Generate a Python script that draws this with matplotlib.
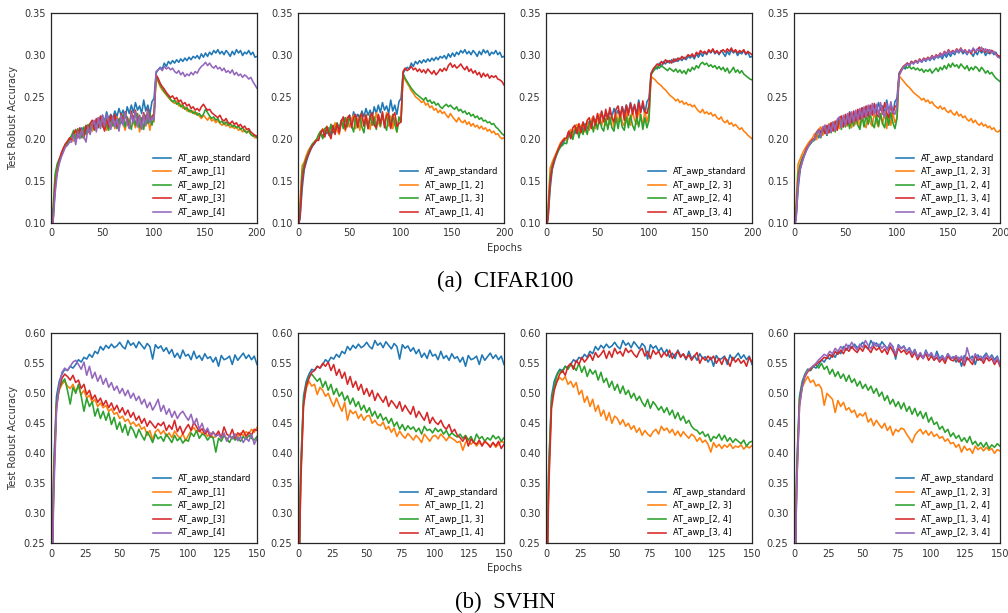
import numpy as np
import matplotlib
matplotlib.use("Agg")
import matplotlib.pyplot as plt

# ---------------- data (values in thousandths of accuracy) ----------------
epochs_cifar = np.arange(0, 201, 2)
epochs_svhn = np.arange(0, 151, 2)

cifar_standard = [
    95, 105, 140, 163, 172, 180, 186, 191, 194, 198,
    200, 208, 201, 210, 206, 213, 204, 215, 209, 218,
    212, 221, 214, 225, 217, 228, 220, 232, 223, 229,
    224, 233, 226, 236, 228, 234, 225, 238, 230, 240,
    231, 243, 234, 239, 230, 246, 233, 240, 229, 244,
    248, 278, 282, 285, 283, 290, 286, 292, 289, 293,
    290, 294, 291, 295, 292, 296, 293, 297, 294, 298,
    296, 299, 295, 301, 297, 302, 298, 303, 300, 305,
    302, 306, 301, 304, 300, 305, 302, 298, 304, 300,
    306, 302, 305, 299, 303, 301, 305, 300, 303, 297,
    298]
cifar_1 = [
    92, 110, 150, 168, 175, 182, 188, 192, 196, 199,
    203, 197, 209, 202, 212, 205, 200, 214, 207, 217,
    209, 220, 211, 223, 214, 226, 216, 210, 224, 213,
    222, 212, 226, 215, 228, 218, 210, 225, 216, 229,
    220, 213, 227, 208, 222, 229, 215, 225, 210, 227,
    220, 272, 268, 262, 258, 255, 252, 249, 246, 244,
    242, 245, 239, 241, 236, 238, 233, 235, 231, 233,
    229, 231, 227, 224, 228, 225, 222, 226, 221, 223,
    219, 222, 218, 216, 219, 215, 217, 213, 216, 212,
    214, 210, 212, 208, 211, 207, 209, 205, 204, 201,
    202]
cifar_2 = [
    98, 118, 158, 170, 176, 181, 187, 193, 195, 200,
    204, 210, 199, 212, 206, 201, 214, 205, 217, 208,
    219, 210, 222, 213, 226, 214, 223, 216, 210, 225,
    215, 227, 212, 224, 218, 229, 214, 226, 219, 211,
    227, 216, 230, 213, 225, 211, 228, 218, 231, 216,
    226, 274, 270, 264, 260, 256, 253, 250, 247, 244,
    246, 241, 243, 238, 240, 235, 237, 232, 234, 230,
    232, 228, 230, 226, 229, 235, 231, 227, 224, 226,
    222, 224, 219, 221, 217, 220, 216, 218, 214, 216,
    213, 215, 211, 213, 209, 207, 210, 205, 203, 204,
    201]
cifar_3 = [
    90, 102, 145, 160, 174, 183, 189, 194, 197, 201,
    198, 206, 211, 201, 213, 207, 203, 216, 208, 218,
    222, 211, 224, 214, 227, 217, 209, 225, 214, 228,
    218, 229, 216, 211, 230, 219, 232, 220, 213, 233,
    221, 234, 216, 228, 212, 231, 219, 235, 222, 226,
    230, 276, 272, 266, 262, 259, 255, 252, 249, 251,
    247, 249, 244, 246, 241, 243, 239, 241, 236, 238,
    234, 236, 233, 238, 241, 237, 234, 235, 231, 229,
    227, 225, 228, 223, 221, 224, 219, 218, 221, 217,
    219, 215, 217, 213, 215, 211, 212, 208, 206, 204,
    203]
cifar_4 = [
    88, 100, 135, 158, 170, 178, 184, 190, 192, 196,
    196, 205, 193, 208, 200, 211, 202, 196, 214, 205,
    217, 222, 208, 225, 212, 228, 215, 229, 221, 211,
    226, 214, 224, 209, 228, 216, 231, 218, 212, 230,
    219, 232, 214, 227, 211, 229, 216, 233, 219, 226,
    222, 280, 282, 284, 281, 286, 283, 285, 282, 284,
    280, 278, 281, 276, 279, 274, 277, 275, 279, 276,
    280, 278, 283, 286, 288, 291, 287, 290, 286, 284,
    287, 283, 285, 281, 284, 279, 281, 278, 282, 276,
    279, 275, 277, 273, 276, 274, 271, 273, 268, 264,
    260]
cifar_12 = [
    100, 125, 168, 172, 180, 186, 190, 193, 197, 199,
    201, 208, 212, 203, 215, 206, 217, 208, 219, 210,
    205, 219, 223, 209, 226, 214, 222, 228, 212, 224,
    210, 227, 215, 229, 218, 211, 228, 216, 231, 219,
    214, 229, 217, 231, 215, 227, 212, 225, 208, 222,
    222, 275, 270, 266, 262, 257, 254, 250, 248, 246,
    243, 245, 240, 242, 237, 239, 234, 236, 231, 234,
    230, 232, 228, 225, 230, 226, 223, 220, 225, 221,
    219, 222, 217, 220, 215, 218, 214, 216, 212, 215,
    211, 213, 209, 211, 207, 209, 205, 206, 202, 200,
    201]
cifar_13 = [
    96, 115, 160, 170, 177, 183, 189, 194, 196, 199,
    205, 209, 200, 212, 214, 204, 217, 207, 210, 219,
    209, 222, 212, 225, 214, 227, 216, 208, 226, 213,
    228, 214, 207, 225, 212, 229, 216, 226, 211, 228,
    215, 230, 217, 210, 228, 213, 229, 217, 208, 226,
    220, 278, 272, 268, 264, 260, 257, 254, 252, 250,
    248, 246, 249, 244, 246, 242, 244, 240, 242, 238,
    236, 239, 241, 238, 240, 237, 235, 238, 233, 235,
    231, 233, 229, 231, 227, 229, 225, 227, 223, 225,
    221, 222, 219, 220, 217, 218, 214, 212, 209, 206,
    204]
cifar_14 = [
    92, 108, 150, 165, 175, 181, 187, 192, 195, 198,
    198, 207, 211, 202, 214, 206, 200, 216, 205, 218,
    207, 221, 226, 211, 224, 228, 213, 225, 229, 214,
    226, 230, 215, 228, 212, 226, 231, 216, 213, 229,
    218, 232, 213, 228, 230, 212, 226, 231, 215, 218,
    220, 280, 284, 281, 283, 286, 282, 284, 280, 283,
    279, 282, 278, 283, 280, 277, 281, 276, 279, 283,
    280, 284, 281, 287, 290, 285, 288, 284, 286, 289,
    285, 282, 286, 280, 283, 278, 281, 276, 279, 273,
    278, 274, 277, 272, 275, 273, 275, 271, 270, 268,
    264]
cifar_23 = [
    94, 118, 165, 172, 178, 183, 189, 195, 198, 201,
    197, 207, 211, 203, 214, 217, 206, 215, 219, 208,
    221, 210, 223, 226, 212, 225, 229, 215, 227, 216,
    230, 217, 228, 213, 231, 219, 232, 220, 215, 233,
    221, 216, 234, 222, 217, 235, 223, 218, 233, 220,
    230, 274, 272, 270, 267, 265, 263, 260, 258, 255,
    252, 250, 248, 245, 247, 243, 245, 241, 243, 240,
    241, 238, 240, 236, 233, 231, 235, 230, 232, 229,
    231, 227, 229, 225, 223, 226, 221, 219, 222, 217,
    219, 215, 217, 214, 211, 213, 209, 207, 204, 202,
    200]
cifar_24 = [
    96, 112, 155, 168, 175, 180, 186, 190, 192, 195,
    194, 204, 208, 199, 210, 213, 201, 214, 205, 216,
    205, 218, 221, 208, 223, 211, 225, 213, 209, 224,
    211, 226, 213, 209, 225, 212, 227, 214, 210, 226,
    213, 228, 216, 210, 227, 214, 229, 211, 225, 213,
    222, 276, 280, 283, 286, 284, 287, 285, 283, 281,
    284, 282, 280, 283, 279, 282, 278, 281, 277, 283,
    280, 285, 282, 287, 284, 289, 291, 288, 290, 286,
    288, 285, 287, 283, 286, 282, 285, 280, 284, 278,
    281, 285, 279, 282, 278, 281, 277, 275, 273, 271,
    270]
cifar_34 = [
    90, 105, 148, 165, 174, 182, 188, 193, 197, 200,
    201, 209, 200, 213, 216, 206, 218, 207, 220, 210,
    222, 225, 212, 227, 216, 230, 218, 233, 220, 235,
    223, 237, 225, 220, 235, 239, 226, 238, 222, 240,
    228, 242, 229, 241, 225, 243, 231, 245, 232, 230,
    240, 277, 283, 286, 289, 287, 292, 289, 294, 291,
    293, 290, 295, 292, 296, 294, 298, 295, 297, 300,
    298, 301, 297, 303, 300, 305, 302, 304, 301, 306,
    303, 307, 302, 305, 301, 304, 306, 303, 307, 304,
    308, 303, 306, 302, 305, 303, 306, 301, 304, 302,
    300]
cifar_123 = [
    98, 122, 170, 176, 182, 187, 191, 195, 198, 201,
    206, 199, 211, 214, 204, 216, 206, 218, 208, 220,
    210, 222, 212, 225, 214, 227, 215, 226, 213, 229,
    217, 228, 214, 230, 218, 213, 231, 219, 215, 232,
    220, 214, 230, 217, 232, 212, 228, 216, 231, 219,
    225, 275, 272, 269, 266, 263, 261, 258, 255, 253,
    251, 249, 246, 248, 244, 246, 242, 244, 240, 238,
    236, 239, 235, 237, 233, 231, 234, 230, 228, 232,
    227, 229, 225, 227, 223, 221, 224, 219, 222, 218,
    216, 219, 215, 217, 213, 215, 211, 213, 209, 208,
    210]
cifar_124 = [
    94, 114, 158, 170, 177, 182, 187, 191, 194, 197,
    198, 206, 210, 201, 212, 215, 204, 216, 207, 219,
    208, 221, 224, 211, 226, 214, 225, 212, 227, 215,
    229, 216, 211, 227, 214, 229, 217, 230, 218, 213,
    228, 215, 230, 218, 213, 229, 216, 231, 219, 212,
    224, 276, 281, 284, 286, 284, 286, 283, 285, 282,
    284, 281, 283, 279, 282, 280, 283, 278, 281, 284,
    280, 285, 282, 287, 283, 289, 285, 290, 286, 288,
    284, 289, 286, 283, 287, 281, 285, 282, 286, 284,
    280, 285, 282, 278, 281, 277, 279, 275, 272, 270,
    268]
cifar_134 = [
    92, 106, 150, 166, 175, 181, 188, 192, 196, 199,
    200, 208, 211, 203, 214, 206, 216, 207, 219, 209,
    221, 210, 224, 227, 214, 229, 217, 231, 219, 233,
    221, 235, 223, 237, 225, 239, 227, 240, 228, 242,
    230, 226, 241, 229, 243, 231, 225, 242, 230, 238,
    240, 276, 282, 286, 288, 290, 288, 292, 290, 293,
    291, 295, 292, 296, 294, 297, 295, 299, 296, 300,
    298, 302, 299, 304, 301, 306, 302, 305, 303, 307,
    304, 308, 303, 306, 302, 305, 301, 307, 303, 306,
    309, 304, 307, 303, 306, 302, 305, 303, 301, 299,
    298]
cifar_234 = [
    90, 104, 146, 164, 173, 180, 186, 191, 195, 198,
    199, 207, 210, 202, 213, 216, 205, 217, 208, 220,
    210, 223, 226, 213, 228, 216, 230, 218, 232, 220,
    234, 222, 236, 224, 238, 226, 240, 228, 242, 229,
    241, 228, 243, 231, 226, 242, 230, 244, 232, 229,
    238, 275, 280, 285, 287, 289, 287, 291, 289, 292,
    290, 294, 291, 295, 293, 296, 294, 298, 295, 299,
    297, 301, 298, 303, 300, 305, 301, 304, 302, 306,
    303, 307, 304, 305, 301, 306, 303, 308, 304, 307,
    305, 309, 304, 307, 303, 306, 302, 304, 300, 297,
    296]

svhn_standard = [
    100, 380, 495, 520, 532, 540, 538, 545, 542, 548,
    556, 552, 560, 557, 565, 560, 570, 566, 578, 572,
    580, 575, 582, 576, 579, 585, 578, 574, 588, 580,
    584, 576, 586, 580, 574, 583, 578, 557, 581, 575,
    579, 570, 576, 566, 573, 560, 567, 558, 572, 562,
    565, 556, 570, 558, 563, 555, 566, 558, 561, 552,
    560, 545, 563, 556, 558, 562, 548, 564, 555, 561,
    567, 558, 564, 556, 562, 548]
svhn_1 = [
    100, 360, 480, 505, 515, 520, 512, 508, 515, 503,
    512, 498, 505, 492, 497, 485, 490, 478, 484, 476,
    480, 470, 474, 465, 468, 458, 462, 453, 457, 448,
    452, 445, 449, 440, 444, 430, 438, 422, 436, 440,
    432, 438, 428, 434, 426, 437, 430, 425, 433, 421,
    430, 438, 443, 435, 440, 432, 438, 428, 434, 426,
    428, 433, 424, 430, 422, 429, 425, 432, 427, 434,
    429, 436, 432, 440, 435, 443]
svhn_2 = [
    100, 370, 485, 508, 518, 524, 505, 482, 510, 500,
    515, 495, 470, 492, 478, 486, 462, 475, 458, 470,
    455, 468, 448, 460, 440, 452, 435, 448, 430, 445,
    438, 426, 440, 430, 422, 436, 428, 418, 432, 424,
    428, 420, 432, 425, 418, 430, 421, 426, 417, 423,
    420, 434, 428, 438, 425, 432, 430, 422, 428, 426,
    402, 425, 420, 430, 424, 418, 428, 422, 426, 420,
    428, 423, 430, 425, 422, 428]
svhn_3 = [
    100, 350, 478, 510, 525, 532, 528, 522, 530, 518,
    522, 508, 515, 498, 505, 490, 497, 485, 492, 480,
    488, 476, 484, 472, 480, 468, 476, 464, 472, 460,
    468, 455, 462, 450, 458, 445, 454, 448, 442, 450,
    446, 452, 438, 447, 440, 455, 436, 445, 432, 441,
    448, 438, 452, 444, 436, 441, 432, 438, 428, 435,
    430, 437, 426, 444, 432, 428, 440, 425, 434, 430,
    438, 428, 435, 430, 440, 438]
svhn_4 = [
    100, 330, 470, 515, 535, 542, 538, 545, 552, 555,
    548, 540, 552, 530, 545, 525, 535, 520, 530, 515,
    525, 510, 518, 505, 512, 500, 508, 496, 505, 492,
    500, 488, 495, 482, 490, 476, 485, 472, 480, 490,
    470, 480, 465, 474, 460, 470, 458, 466, 470, 462,
    455, 465, 448, 458, 440, 450, 435, 442, 430, 436,
    428, 432, 425, 434, 420, 430, 424, 432, 421, 428,
    418, 426, 420, 432, 415, 425]
svhn_12 = [
    100, 360, 482, 508, 520, 512, 515, 498, 510, 505,
    495, 500, 488, 478, 492, 480, 470, 485, 455, 472,
    466, 470, 458, 465, 455, 462, 463, 450, 455, 448,
    446, 452, 440, 445, 435, 442, 428, 437, 430, 425,
    433, 428, 422, 430, 425, 418, 432, 426, 420, 428,
    430, 424, 432, 427, 421, 428, 425, 422, 418, 420,
    405, 418, 422, 415, 420, 412, 418, 414, 420, 416,
    412, 418, 410, 415, 420, 418]
svhn_13 = [
    100, 365, 488, 515, 528, 532, 526, 520, 525, 510,
    520, 505, 515, 498, 508, 495, 502, 488, 496, 482,
    492, 478, 486, 472, 480, 468, 476, 462, 470, 458,
    466, 455, 460, 450, 458, 445, 452, 440, 448, 438,
    446, 440, 444, 436, 442, 432, 445, 438, 440, 434,
    442, 436, 440, 432, 438, 429, 434, 430, 427, 432,
    425, 430, 422, 428, 418, 432, 424, 428, 420, 426,
    422, 430, 424, 428, 420, 426]
svhn_14 = [
    100, 350, 478, 512, 525, 535, 538, 545, 542, 550,
    545, 552, 538, 548, 530, 540, 525, 535, 515, 528,
    510, 520, 505, 515, 498, 508, 495, 505, 488, 500,
    492, 485, 495, 478, 488, 482, 475, 486, 470, 480,
    472, 465, 478, 460, 470, 462, 455, 468, 450, 460,
    452, 448, 455, 445, 440, 448, 435, 440, 430, 426,
    420, 428, 412, 424, 418, 415, 422, 412, 420, 416,
    410, 418, 412, 420, 408, 415]
svhn_23 = [
    100, 360, 485, 508, 520, 526, 522, 528, 515, 520,
    510, 518, 498, 505, 485, 495, 478, 490, 470, 480,
    462, 472, 455, 468, 450, 462, 458, 448, 456, 445,
    450, 440, 446, 435, 442, 430, 438, 432, 428, 436,
    440, 432, 445, 438, 442, 434, 440, 430, 437, 428,
    436, 430, 425, 432, 428, 420, 426, 418, 422, 415,
    402, 418, 410, 415, 408, 414, 410, 416, 408, 412,
    410, 414, 407, 412, 409, 413]
svhn_24 = [
    100, 370, 488, 512, 530, 538, 535, 545, 540, 548,
    545, 538, 550, 535, 545, 528, 540, 532, 538, 522,
    535, 518, 525, 510, 520, 505, 515, 500, 512, 498,
    505, 492, 500, 488, 495, 485, 478, 490, 475, 486,
    480, 472, 478, 468, 476, 464, 472, 458, 468, 455,
    462, 450, 455, 445, 440, 438, 432, 436, 428, 432,
    420, 428, 425, 432, 422, 430, 420, 426, 418, 424,
    420, 416, 422, 412, 418, 420]
svhn_34 = [
    100, 340, 475, 505, 520, 532, 538, 530, 545, 550,
    540, 555, 548, 560, 552, 558, 565, 555, 568, 560,
    565, 572, 558, 570, 560, 575, 566, 570, 562, 575,
    568, 572, 565, 560, 570, 575, 562, 570, 558, 572,
    565, 570, 560, 568, 562, 572, 558, 565, 570, 560,
    566, 558, 564, 555, 562, 568, 550, 560, 555, 562,
    556, 562, 550, 558, 548, 560, 555, 545, 560, 552,
    558, 550, 555, 545, 560, 552]
svhn_123 = [
    100, 365, 488, 510, 520, 528, 518, 522, 512, 515,
    508, 480, 500, 495, 490, 468, 488, 478, 485, 472,
    476, 468, 472, 460, 466, 462, 468, 452, 458, 446,
    455, 448, 442, 450, 438, 445, 430, 440, 436, 442,
    440, 432, 425, 418, 430, 436, 440, 432, 438, 430,
    436, 428, 432, 425, 428, 420, 424, 416, 418, 410,
    415, 402, 412, 405, 408, 400, 412, 406, 410, 404,
    410, 405, 408, 400, 406, 404]
svhn_124 = [
    100, 365, 490, 515, 532, 540, 538, 545, 548, 542,
    550, 540, 545, 532, 540, 528, 536, 525, 532, 520,
    530, 518, 524, 512, 520, 508, 515, 505, 512, 500,
    508, 495, 502, 488, 496, 482, 490, 478, 486, 474,
    484, 470, 478, 465, 475, 462, 470, 458, 468, 452,
    460, 448, 452, 440, 445, 435, 440, 428, 434, 425,
    430, 420, 426, 418, 428, 415, 420, 412, 418, 410,
    418, 408, 414, 410, 416, 412]
svhn_134 = [
    100, 350, 480, 512, 528, 536, 540, 545, 548, 552,
    555, 560, 558, 565, 560, 570, 565, 572, 566, 575,
    570, 578, 572, 568, 576, 570, 580, 574, 568, 578,
    572, 576, 568, 574, 565, 578, 570, 562, 575, 568,
    572, 565, 570, 560, 568, 556, 564, 558, 566, 555,
    562, 555, 560, 552, 558, 550, 562, 556, 554, 560,
    552, 558, 546, 560, 554, 548, 562, 555, 558, 550,
    560, 554, 558, 548, 556, 545]
svhn_234 = [
    100, 345, 478, 510, 530, 538, 542, 546, 550, 556,
    560, 565, 562, 570, 566, 575, 570, 578, 572, 582,
    575, 585, 578, 572, 582, 576, 588, 580, 574, 585,
    578, 582, 575, 580, 572, 584, 576, 566, 580, 574,
    578, 570, 575, 565, 572, 560, 568, 558, 570, 562,
    568, 558, 565, 555, 562, 556, 566, 560, 558, 563,
    556, 562, 550, 576, 560, 554, 566, 558, 562, 555,
    565, 558, 562, 552, 560, 548]

cifar_panels = [
    [("AT_awp_standard", cifar_standard), ("AT_awp_[1]", cifar_1),
     ("AT_awp_[2]", cifar_2), ("AT_awp_[3]", cifar_3), ("AT_awp_[4]", cifar_4)],
    [("AT_awp_standard", cifar_standard), ("AT_awp_[1, 2]", cifar_12),
     ("AT_awp_[1, 3]", cifar_13), ("AT_awp_[1, 4]", cifar_14)],
    [("AT_awp_standard", cifar_standard), ("AT_awp_[2, 3]", cifar_23),
     ("AT_awp_[2, 4]", cifar_24), ("AT_awp_[3, 4]", cifar_34)],
    [("AT_awp_standard", cifar_standard), ("AT_awp_[1, 2, 3]", cifar_123),
     ("AT_awp_[1, 2, 4]", cifar_124), ("AT_awp_[1, 3, 4]", cifar_134),
     ("AT_awp_[2, 3, 4]", cifar_234)],
]
svhn_panels = [
    [("AT_awp_standard", svhn_standard), ("AT_awp_[1]", svhn_1),
     ("AT_awp_[2]", svhn_2), ("AT_awp_[3]", svhn_3), ("AT_awp_[4]", svhn_4)],
    [("AT_awp_standard", svhn_standard), ("AT_awp_[1, 2]", svhn_12),
     ("AT_awp_[1, 3]", svhn_13), ("AT_awp_[1, 4]", svhn_14)],
    [("AT_awp_standard", svhn_standard), ("AT_awp_[2, 3]", svhn_23),
     ("AT_awp_[2, 4]", svhn_24), ("AT_awp_[3, 4]", svhn_34)],
    [("AT_awp_standard", svhn_standard), ("AT_awp_[1, 2, 3]", svhn_123),
     ("AT_awp_[1, 2, 4]", svhn_124), ("AT_awp_[1, 3, 4]", svhn_134),
     ("AT_awp_[2, 3, 4]", svhn_234)],
]

cifar_xticks = [0, 50, 100, 150, 200]
cifar_yticks = [0.10, 0.15, 0.20, 0.25, 0.30, 0.35]
svhn_xticks = [0, 25, 50, 75, 100, 125, 150]
svhn_yticks = [0.25, 0.30, 0.35, 0.40, 0.45, 0.50, 0.55, 0.60]

colors = ["#1f77b4", "#ff7f0e", "#2ca02c", "#d62728", "#9467bd"]

# ---------------- figure ----------------
W, H = 1008, 613
fig = plt.figure(figsize=(W / 100, H / 100), dpi=100)
plt.rcParams["font.family"] = ["DejaVu Sans"]

lefts = [51, 298, 546, 794]
width = 206
rows = [(12.7, 222.7), (333.3, 543.3)]
txt = "#333333"


def draw_row(row_idx, panels, epochs, xlim, ylim, xticks, yticks, caption):
    top, bot = rows[row_idx]
    for i, series in enumerate(panels):
        ax = fig.add_axes([lefts[i] / W, 1 - bot / H, width / W, (bot - top) / H])
        for k, (label, vals) in enumerate(series):
            y = np.asarray(vals, dtype=float) / 1000.0
            n = min(len(y), len(epochs))
            ax.plot(epochs[:n], y[:n], color=colors[k], lw=1.15, label=label)
        ax.set_xlim(*xlim)
        ax.set_ylim(*ylim)
        ax.set_xticks(xticks)
        ax.set_yticks(yticks)
        ax.set_yticklabels([f"{v:.2f}" for v in yticks])
        ax.tick_params(length=0, pad=4, labelsize=7, colors=txt)
        for s in ax.spines.values():
            s.set_color("#262626")
            s.set_linewidth(0.9)
        if i == 0:
            ax.set_ylabel("Test Robust Accuracy", fontsize=7, color=txt, labelpad=4)
        ax.legend(loc="lower right", frameon=False, fontsize=6,
                  handlelength=2.2, borderaxespad=0.3, labelspacing=0.55)
    fig.text(505 / W, 1 - (bot + 25) / H, "Epochs", ha="center", va="center",
             fontsize=7, color=txt)
    fig.text(505 / W, 1 - (bot + 59) / H, caption, ha="center", va="center",
             fontsize=16.5, family="Liberation Serif", color="black")


draw_row(0, cifar_panels, epochs_cifar, (0, 200), (0.10, 0.35),
         cifar_xticks, cifar_yticks, "(a)  CIFAR100")
draw_row(1, svhn_panels, epochs_svhn, (0, 150), (0.25, 0.60),
         svhn_xticks, svhn_yticks, "(b)  SVHN")

fig.savefig("out.png", dpi=100)
